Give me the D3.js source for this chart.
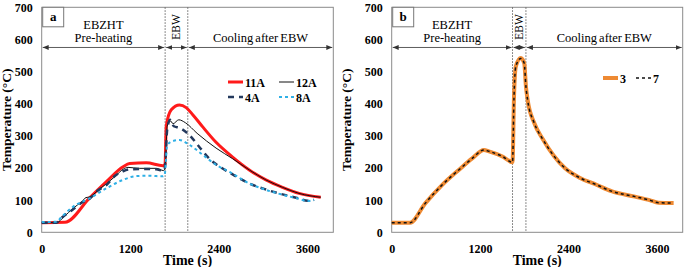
<!DOCTYPE html>
<html>
<head>
<meta charset="utf-8">
<script src="https://cdn.jsdelivr.net/npm/d3@7"></script>
<style>
  html, body { margin: 0; padding: 0; background: #fff; }
  svg { display: block; font-family: "Liberation Serif", "Times New Roman", serif; }
  .tick text { font-family: "Liberation Serif", "Times New Roman", serif; font-weight: bold; font-size: 12px; fill: #000; }
</style>
</head>
<body>
<svg id="chart" width="687" height="267"></svg>
<script>
// axis ticks
const timeTicks = [0, 1200, 2400, 3600];
const tempTicks = [0, 100, 200, 300, 400, 500, 600, 700];
const timeMax = 3950;
const tempMax = 700;

// phase boundaries (s)
const phasesA = [1672, 1979];
const phasesB = [1640, 1822];

// panel a series [time s, temperature C]
const s11A = [[0,30],[315,31],[652,108],[877,158],[1102,204],[1192,214],[1417,216],[1642,207],[1671,212],[1687,330],[1755,381],[1867,396],[1957,388],[2046,366],[2181,328],[2362,280],[2586,234],[2812,194],[3037,163],[3261,140],[3487,121],[3780,109]];
const s12A = [[0,30],[202,30],[300,48],[427,75],[540,95],[600,108],[652,110],[760,130],[877,151],[1000,175],[1102,196],[1169,202],[1327,199],[1552,199],[1651,192],[1670,200],[1700,330],[1736,348],[1780,338],[1857,350],[1946,341],[2105,308],[2362,262],[2586,229],[2812,194],[3037,163],[3261,140],[3487,121],[3780,109]];
const s4A = [[0,30],[200,30],[270,45],[427,72],[540,92],[652,105],[760,130],[877,147],[990,175],[1102,190],[1200,196],[1400,197],[1550,196],[1651,192],[1670,205],[1700,320],[1740,350],[1790,330],[1867,325],[1990,305],[2130,267],[2290,225],[2407,205],[2586,180],[2812,152],[3037,133],[3261,118],[3487,105],[3600,98],[3690,101]];
const s8A = [[0,32],[200,33],[270,48],[427,80],[652,106],[877,137],[1102,163],[1282,175],[1462,176],[1642,174],[1665,178],[1700,270],[1755,282],[1867,287],[2002,272],[2181,241],[2362,210],[2545,188],[2812,152],[3037,132],[3261,117],[3487,104],[3600,97],[3690,101]];

// panel b series
const s3 = [[0,30],[250,30],[455,90],[683,147],[910,194],[1093,230],[1252,256],[1320,252],[1503,236],[1640,218],[1660,420],[1685,516],[1753,542],[1799,526],[1822,454],[1845,412],[1935,340],[2050,290],[2200,238],[2350,200],[2550,170],[2779,148],[2983,128],[3302,111],[3500,100],[3622,92],[3827,91]];
const s7 = [[0,30],[250,30],[455,90],[683,147],[910,194],[1093,230],[1252,256],[1320,252],[1503,236],[1640,218],[1660,420],[1685,516],[1753,541],[1799,526],[1822,454],[1845,412],[1935,340],[2050,290],[2200,238],[2350,200],[2550,170],[2779,148],[2983,128],[3302,111],[3500,100],[3622,92],[3827,91]];

const svg = d3.select("#chart");

const defs = svg.append("defs");
defs.append("marker")
  .attr("id", "arr")
  .attr("viewBox", "0 0 10 10")
  .attr("refX", 10).attr("refY", 5)
  .attr("markerWidth", 6).attr("markerHeight", 6)
  .attr("markerUnits", "userSpaceOnUse")
  .attr("orient", "auto-start-reverse")
  .append("path")
  .attr("d", "M0,1 L10,5 L0,9 Z")
  .attr("fill", "#333");

function drawPanel(p) {
  const x = d3.scaleLinear().domain([0, timeMax]).range([p.left, p.right]);
  const y = d3.scaleLinear().domain([0, tempMax]).range([p.bottom, p.top]);
  const g = svg.append("g");

  g.append("rect")
    .attr("x", p.left).attr("y", p.top)
    .attr("width", p.right - p.left).attr("height", p.bottom - p.top)
    .attr("fill", "none").attr("stroke", "#8a8a8a").attr("stroke-width", 1);

  g.append("g")
    .attr("transform", "translate(0," + p.bottom + ")")
    .call(d3.axisBottom(x).tickValues(timeTicks).tickFormat(d3.format("d")).tickSize(0).tickPadding(12))
    .attr("font-family", null).attr("font-size", null)
    .call(s => s.select(".domain").remove());

  g.append("g")
    .attr("transform", "translate(" + p.left + ",0)")
    .call(d3.axisLeft(y).tickValues(tempTicks).tickFormat(d3.format("d")).tickSize(0).tickPadding(9))
    .attr("font-family", null).attr("font-size", null)
    .call(s => s.select(".domain").remove());

  g.append("text")
    .attr("x", (p.left + p.right) / 2).attr("y", 265)
    .attr("text-anchor", "middle")
    .attr("font-weight", "bold").attr("font-size", "14px")
    .text("Time (s)");

  g.append("text")
    .attr("transform", "translate(" + p.ylabX + "," + (p.top + p.bottom) / 2 + ") rotate(-90)")
    .attr("text-anchor", "middle")
    .attr("font-weight", "bold").attr("font-size", "13.5px")
    .text(p.ylab);

  // phase separators
  p.phases.forEach(function (t) {
    g.append("line")
      .attr("x1", x(t)).attr("x2", x(t))
      .attr("y1", p.top).attr("y2", p.bottom)
      .attr("stroke", "#666").attr("stroke-width", 1)
      .attr("stroke-dasharray", "1.5,1.5");
  });

  // arrows
  const edges = [0].concat(p.phases).concat([timeMax]);
  const ay = y(575);
  for (let i = 0; i < edges.length - 1; i++) {
    g.append("line")
      .attr("x1", x(edges[i]) + 1).attr("x2", x(edges[i + 1]) - 1)
      .attr("y1", ay).attr("y2", ay)
      .attr("stroke", "#333").attr("stroke-width", 0.8)
      .attr("marker-start", "url(#arr)").attr("marker-end", "url(#arr)");
  }

  const mid0 = (x(0) + x(p.phases[0])) / 2;
  const mid2 = (x(p.phases[1]) + x(timeMax)) / 2;
  const mid1 = (x(p.phases[0]) + x(p.phases[1])) / 2;
  g.append("text").attr("x", mid0).attr("y", 29).attr("text-anchor", "middle")
    .attr("font-size", "12.5px").text("EBZHT");
  g.append("text").attr("x", mid0).attr("y", 42).attr("text-anchor", "middle")
    .attr("font-size", "12.5px").text("Pre-heating");
  g.append("text").attr("x", mid2).attr("y", 42).attr("text-anchor", "middle")
    .attr("font-size", "12.5px").attr("word-spacing", "-1px").text("Cooling after EBW");
  g.append("text")
    .attr("transform", "translate(" + (mid1 + 4) + ",27) rotate(-90)")
    .attr("text-anchor", "middle")
    .attr("font-size", "11.5px").text("EBW");

  // panel letter box
  g.append("rect")
    .attr("x", p.left + 1).attr("y", p.top)
    .attr("width", 21).attr("height", 19.5)
    .attr("fill", "#fff").attr("stroke", "#777").attr("stroke-width", 1);
  g.append("text")
    .attr("x", p.left + 11.5).attr("y", p.top + 14)
    .attr("text-anchor", "middle")
    .attr("font-weight", "bold").attr("font-size", "13px")
    .text(p.letter);

  const line = d3.line()
    .x(d => x(d[0]))
    .y(d => y(d[1]))
    .curve(d3.curveMonotoneX);

  p.series.forEach(function (s) {
    g.append("path")
      .datum(s.data)
      .attr("d", line)
      .attr("fill", "none")
      .attr("stroke", s.color)
      .attr("stroke-width", s.width)
      .attr("stroke-dasharray", s.dash || null);
  });

  // legend
  p.series.forEach(function (s) {
    g.append("line")
      .attr("x1", s.lx).attr("x2", s.lx + 15)
      .attr("y1", s.ly).attr("y2", s.ly)
      .attr("stroke", s.color).attr("stroke-width", s.width)
      .attr("stroke-dasharray", s.dash || null);
    g.append("text")
      .attr("x", s.lx + 17).attr("y", s.ly + 4.5)
      .attr("font-weight", "bold").attr("font-size", "12px")
      .text(s.name);
  });
}

drawPanel({
  left: 41.7, right: 333.3, top: 7.3, bottom: 232.3,
  ylabX: 10.5, ylab: "Temperature (°C)", letter: "a",
  phases: phasesA,
  series: [
    { name: "11A", data: s11A, color: "#ff1a1a", width: 3, lx: 228, ly: 82 },
    { name: "12A", data: s12A, color: "#111", width: 1, lx: 279, ly: 82 },
    { name: "4A", data: s4A, color: "#23395d", width: 2.5, dash: "6,5", lx: 228, ly: 97 },
    { name: "8A", data: s8A, color: "#2fb0e6", width: 2, dash: "3,3", lx: 279, ly: 97 }
  ]
});

drawPanel({
  left: 391.7, right: 682.7, top: 7.3, bottom: 232.3,
  ylabX: 351, ylab: "Temperature (°C)", letter: "b",
  phases: phasesB,
  series: [
    { name: "3", data: s3, color: "#ee8a33", width: 4, lx: 603, ly: 78 },
    { name: "7", data: s7, color: "#111", width: 1.5, dash: "3,3", lx: 636, ly: 78 }
  ]
});
</script>
</body>
</html>
